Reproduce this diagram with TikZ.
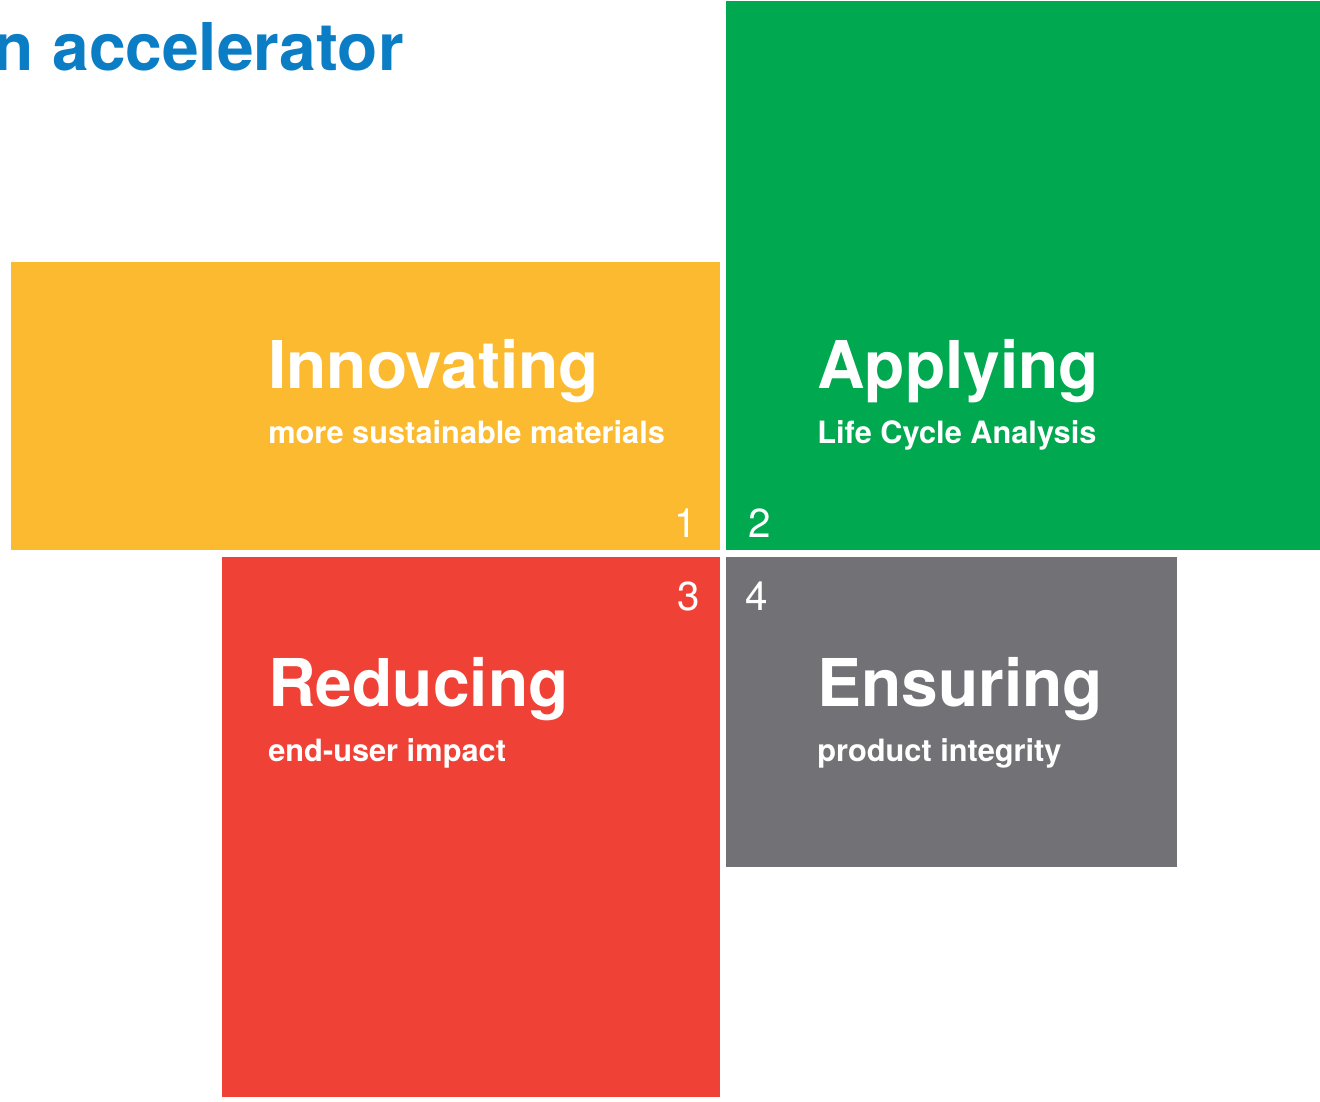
\documentclass[tikz,border=0pt]{standalone}
\usepackage{fontspec}
\setmainfont{TeX Gyre Heros}
\definecolor{tileyellow}{HTML}{FBBA30}
\definecolor{tilegreen}{HTML}{00A850}
\definecolor{tilered}{HTML}{EF4136}
\definecolor{tilegray}{HTML}{727175}
\definecolor{titleblue}{HTML}{0A7DC5}
\tikzset{
  head/.style={anchor=base west,inner sep=0pt,text=white,font=\fontsize{37.5}{40}\selectfont\bfseries},
  sub/.style={anchor=base west,inner sep=0pt,text=white,font=\fontsize{17.5}{20}\selectfont\bfseries},
  num/.style={inner sep=0pt,text=white,font=\fontsize{23}{26}\selectfont}
}
\begin{document}
\begin{tikzpicture}[x=0.02cm,y=-0.02cm,line join=round]
\useasboundingbox (0,0) rectangle (1320,1102);
\clip (0,0) rectangle (1320,1102);
% title, cut at the left edge
\node[anchor=base east,inner sep=0pt,text=titleblue,font=\fontsize{37.5}{40}\selectfont\bfseries] (title) at (404,71) {an accelerator};
% the four tiles
\fill[tileyellow] (11,262) rectangle (720,550);
\fill[tilegreen] (726,1) rectangle (1320,550);
\fill[tilered] (222,557) rectangle (720,1097);
\fill[tilegray] (726,557) rectangle (1177,867);
% tile texts
\node[head] (innovating) at (268,388) {Innovating};
\node[sub] (materials) at (268,443) {more sustainable materials};
\node[head] (applying) at (817,388) {Applying};
\node[sub] (lca) at (817,443) {Life Cycle Analysis};
\node[head] (reducing) at (268,706) {Reducing};
\node[sub] (impact) at (268,761) {end-user impact};
\node[head] (ensuring) at (817,706) {Ensuring};
\node[sub] (integrity) at (817,761) {product integrity};
% numbers
\node[num,anchor=base east] (one) at (697,537) {1};
\node[num,anchor=base west] (two) at (748,537) {2};
\node[num,anchor=base east] (three) at (700,610) {3};
\node[num,anchor=base west] (four) at (745,610) {4};
\end{tikzpicture}
\end{document}
